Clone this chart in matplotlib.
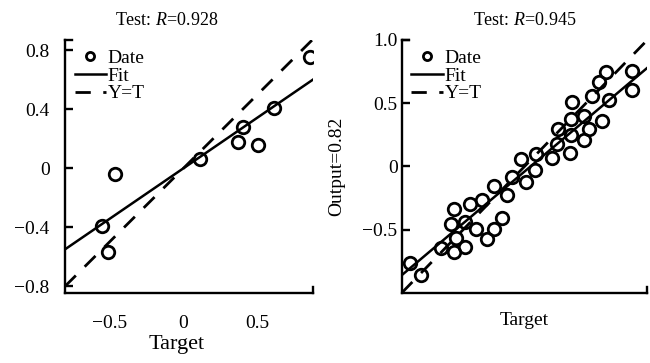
import numpy as np
import matplotlib
matplotlib.use('Agg')
import matplotlib.pyplot as plt

plt.rcParams['font.family'] = ['Liberation Serif', 'DejaVu Serif']
plt.rcParams['mathtext.fontset'] = 'custom'
plt.rcParams['mathtext.rm'] = 'Liberation Serif'
plt.rcParams['mathtext.it'] = 'Liberation Serif:italic'

# left panel (test set, R=0.928)
left_target = [0.855, 0.61, 0.40, 0.37, 0.505, 0.11, -0.46, -0.55, -0.51]
left_output = [0.757, 0.41, 0.28, 0.18, 0.155, 0.06, -0.04, -0.39, -0.57]
left_fit = [0.687, 0.0]  # slope, intercept
left_xticks = [-0.5, 0, 0.5]
left_xticklabels = ['\u22120.5', '0', '0.5']
left_yticks = [-0.8, -0.4, 0, 0.4, 0.8]
left_yticklabels = ['\u22120.8', '\u22120.4', '0', '0.4', '0.8']

# right panel (test set, R=0.945)
right_target = [-0.93, -0.84, -0.683, -0.597, -0.575, -0.574, -0.56, -0.488, -0.488,
                -0.448, -0.395, -0.347, -0.309, -0.25, -0.25, -0.183, -0.139, -0.102,
                -0.028, 0.008, 0.093, 0.089, 0.224, 0.265, 0.274, 0.371, 0.381, 0.381,
                0.385, 0.482, 0.482, 0.526, 0.55, 0.627, 0.61, 0.66, 0.691, 0.877, 0.877]
right_output = [-0.765, -0.86, -0.644, -0.452, -0.336, -0.676, -0.564, -0.639, -0.44,
                -0.296, -0.496, -0.262, -0.572, -0.492, -0.154, -0.41, -0.223, -0.083,
                0.058, -0.12, 0.095, -0.025, 0.069, 0.174, 0.298, 0.109, 0.245, 0.378,
                0.512, 0.40, 0.209, 0.292, 0.555, 0.362, 0.67, 0.75, 0.526, 0.757, 0.605]
right_fit = [0.82, -0.04]
right_yticks = [-0.5, 0, 0.5, 1.0]
right_yticklabels = ['\u22120.5', '0', '0.5', '1.0']

fig = plt.figure(figsize=(6.5, 3.63), dpi=100)
ax1 = fig.add_axes([0.1, 0.193, 0.3815, 0.697])
ax2 = fig.add_axes([0.618, 0.193, 0.378, 0.697])


def draw_panel(ax, target, output, fit, xlim, ylim):
    ax.set_xlim(xlim)
    ax.set_ylim(ylim)
    line_x = np.array(xlim)
    ax.plot(target, output, 'o', ms=9, mfc='none', mec='black', mew=2.0,
            label='Date', zorder=3)
    ax.plot(line_x, fit[0] * line_x + fit[1], color='black', lw=1.8, label='Fit')
    ax.plot(line_x, line_x, color='black', lw=2.0, dashes=(5.5, 4.5), label='Y=T')
    for s in ['left', 'bottom', 'top', 'right']:
        ax.spines[s].set_linewidth(1.7)
    # short end caps of the frame
    ax.spines['top'].set_bounds(xlim[0], xlim[0] + 0.03 * (xlim[1] - xlim[0]))
    ax.spines['right'].set_bounds(ylim[0], ylim[0] + 0.025 * (ylim[1] - ylim[0]))
    ax.legend(loc='upper left', frameon=False, fontsize=14, labelspacing=0.0,
              handlelength=1.6, handletextpad=0.1, borderaxespad=0.3,
              borderpad=0.2, markerscale=0.65)


draw_panel(ax1, left_target, left_output, left_fit, (-0.80, 0.875), (-0.845, 0.87))
ax1.set_xticks(left_xticks)
ax1.set_xticklabels(left_xticklabels)
ax1.set_yticks(left_yticks)
ax1.set_yticklabels(left_yticklabels)
ax1.tick_params(axis='y', direction='in', length=6, width=1.7, pad=11, labelsize=14)
ax1.tick_params(axis='x', direction='in', length=0, pad=16, labelsize=14)
ax1.set_xlabel('Target', fontsize=16, labelpad=2, x=0.45)
ax1.set_title('Test: $R$=0.928', fontsize=13, x=0.41, pad=11)

draw_panel(ax2, right_target, right_output, right_fit, (-1.0, 1.0), (-1.0, 1.0))
ax2.set_xticks([])
ax2.set_yticks(right_yticks)
ax2.set_yticklabels(right_yticklabels)
ax2.tick_params(axis='y', direction='in', length=6, width=1.7, pad=3, labelsize=14)
ax2.set_xlabel('Target', fontsize=14, labelpad=14)
ax2.set_ylabel('Output=0.82', fontsize=14, labelpad=12)
ax2.set_title('Test: $R$=0.945', fontsize=13, pad=11)

fig.savefig('out.png', dpi=100)
